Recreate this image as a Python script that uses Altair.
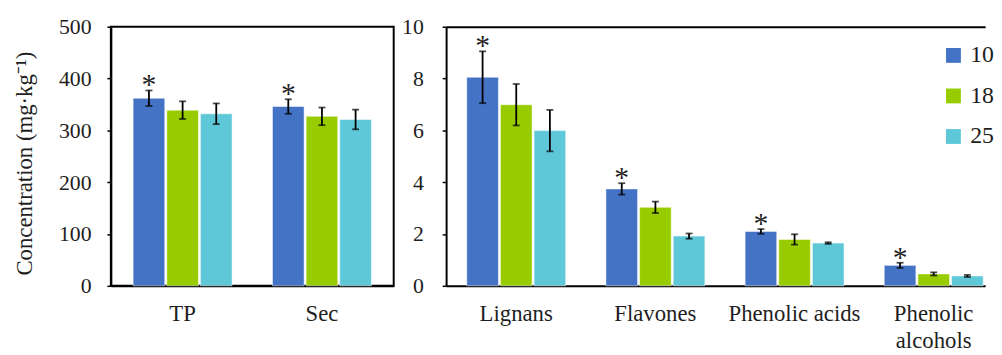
import altair as alt
import pandas as pd

FONT = "Liberation Serif"
TXT = "#1e1e1e"

series = ["10", "18", "25"]
colors = ["#4472C4", "#99CC00", "#5EC8D8"]

# Left panel (mg/kg, 0-500)
left_cats = ["TP", "Sec"]
left_means = {"10": [362, 346], "18": [339, 327], "25": [332, 321]}
left_errs = {"10": [15, 14], "18": [17, 17], "25": [20, 19]}
left_stars = {"10": [True, True], "18": [False, False], "25": [False, False]}

# Right panel (0-10)
right_cats = ["Lignans", "Flavones", "Phenolic acids", "Phenolic alcohols"]
right_means = {"10": [8.05, 3.74, 2.10, 0.79],
               "18": [6.99, 3.03, 1.79, 0.46],
               "25": [5.99, 1.92, 1.65, 0.38]}
right_errs = {"10": [1.0, 0.22, 0.09, 0.10],
              "18": [0.80, 0.22, 0.20, 0.06],
              "25": [0.80, 0.10, 0.03, 0.04]}
right_stars = {"10": [True, True, True, True],
               "18": [False, False, False, False],
               "25": [False, False, False, False]}


def make_df(cats, means, errs, stars):
    rows = []
    for s in series:
        for c, v, e, st in zip(cats, means[s], errs[s], stars[s]):
            rows.append(dict(cat=c, series=s, value=v, lo=v - e, hi=v + e,
                             star="*" if st else ""))
    return pd.DataFrame(rows)


def panel(df, cats, ymax, ystep, width, ytitle, ylabelpad, pad_outer, align,
          legend, view, top_axis):
    base = alt.Chart(df)
    xscale = alt.Scale(paddingInner=0.29, paddingOuter=pad_outer, align=align)
    xo = alt.XOffset("series:N", sort=series, scale=alt.Scale(paddingInner=0.06))
    yscale = alt.Scale(domain=[0, ymax], nice=False)
    xaxis = alt.Axis(title=None, labelAngle=0, ticks=False, domainColor="black",
                     domainWidth=2, labelPadding=17, labelFont=FONT, labelFontSize=23,
                     labelColor=TXT, labelLineHeight=27,
                     labelExpr="datum.value == 'Phenolic alcohols' ? ['Phenolic', 'alcohols'] : datum.label")
    yaxis_kw = dict(values=list(range(0, ymax + 1, ystep)), grid=False, tickSize=4,
                    tickColor="black", tickWidth=1.5, domainColor="black", domainWidth=2,
                    labelPadding=ylabelpad, labelFont=FONT, labelFontSize=22, labelColor=TXT)
    if ytitle:
        yaxis = alt.Axis(title=ytitle, titleFont=FONT, titleFontSize=23,
                         titleFontWeight="normal", titleColor=TXT, titlePadding=22,
                         titleY=138,
                         **yaxis_kw)
    else:
        yaxis = alt.Axis(title=None, **yaxis_kw)
    color = alt.Color("series:N", sort=series,
                      scale=alt.Scale(domain=series, range=colors), legend=legend)

    bars = base.mark_bar(stroke="white", strokeWidth=1, strokeOpacity=0.5).encode(
        x=alt.X("cat:N", sort=cats, scale=xscale, axis=xaxis),
        xOffset=xo,
        y=alt.Y("value:Q", scale=yscale, axis=yaxis),
        color=color,
    )
    if top_axis:
        tx = alt.X("cat:N", sort=cats, axis=alt.Axis(orient="top", labels=False, ticks=False,
                                                    domainColor="black", domainWidth=2,
                                                    title=None))
    else:
        tx = alt.X("cat:N", sort=cats, axis=None)
    rules = base.mark_rule(color="black", strokeWidth=1.8).encode(
        x=tx, xOffset=xo,
        y=alt.Y("lo:Q", axis=None), y2="hi:Q")
    cap_hi = base.mark_tick(color="black", size=7, thickness=1.8).encode(
        x=alt.X("cat:N", sort=cats, axis=None), xOffset=xo, y=alt.Y("hi:Q", axis=None))
    cap_lo = base.mark_tick(color="black", size=7, thickness=1.8).encode(
        x=alt.X("cat:N", sort=cats, axis=None), xOffset=xo, y=alt.Y("lo:Q", axis=None))
    stars = base.transform_filter("datum.star != ''").mark_text(
        font=FONT, fontSize=30, color=TXT, baseline="alphabetic", dy=4).encode(
        x=alt.X("cat:N", sort=cats, axis=None), xOffset=xo,
        y=alt.Y("hi:Q", axis=None), text="star:N")
    layer = alt.layer(bars, rules, cap_hi, cap_lo, stars).resolve_axis(
        x="independent", y="independent")
    props = dict(width=width, height=262)
    if view is not None:
        props["view"] = view
    return layer.properties(**props)


left_df = make_df(left_cats, left_means, left_errs, left_stars)
right_df = make_df(right_cats, right_means, right_errs, right_stars)

left = panel(left_df, left_cats, 500, 100, 286, "Concentration (mg·kg⁻¹)", 16,
             0.16, 0.5, None,
             alt.ViewBackground(stroke="black", strokeWidth=2), False)

legend = alt.Legend(title=None, orient="none", legendX=501, legendY=17,
                    symbolType="square", symbolSize=225, symbolStrokeWidth=0,
                    labelFont=FONT, labelFontSize=24, labelColor=TXT,
                    labelOffset=5, rowPadding=17, padding=0)
right = panel(right_df, right_cats, 10, 2, 545, None, 19, 0.0816, 0.91, legend,
              None, True)

chart = alt.hconcat(left, right, spacing=7).resolve_legend(
    color="independent").properties(
    padding={"left": 5, "top": 5, "right": 0, "bottom": 0}
).configure_view(stroke=None)

chart.save("out.html", embed_options={"renderer": "svg", "actions": False})
